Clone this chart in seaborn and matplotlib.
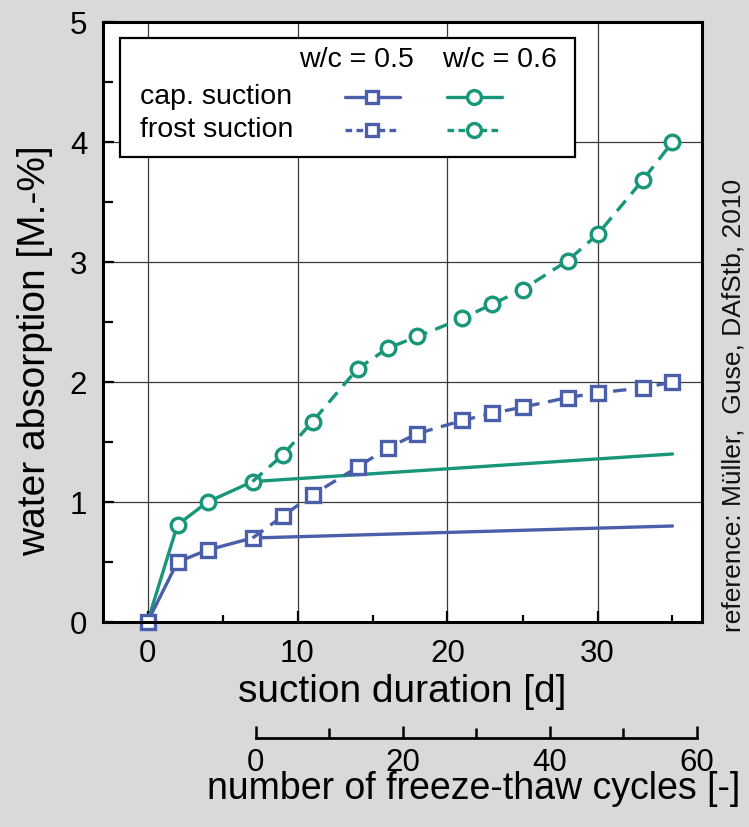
import numpy as np
import pandas as pd
import matplotlib
matplotlib.use("Agg")
import matplotlib.pyplot as plt
import seaborn as sns
from matplotlib.patches import Rectangle
from matplotlib.ticker import MultipleLocator

# ---------------- data ----------------
cap_days = [0, 2, 4, 7, 35]
cap_wc05 = [0.0, 0.50, 0.60, 0.70, 0.80]
cap_wc06 = [0.0, 0.81, 1.00, 1.17, 1.40]

frost_days = [7, 9, 11, 14, 16, 18, 21, 23, 25, 28, 30, 33, 35]
frost_wc05 = [0.70, 0.88, 1.06, 1.29, 1.45, 1.57, 1.68, 1.74, 1.79, 1.87, 1.91, 1.95, 2.00]
frost_wc06 = [1.17, 1.39, 1.67, 2.11, 2.28, 2.38, 2.53, 2.65, 2.77, 3.01, 3.23, 3.68, 4.00]

x_ticks = [0, 10, 20, 30]
y_ticks = [0, 1, 2, 3, 4, 5]
cycle_ticks = [0, 20, 40, 60]

BLUE = "#4a5ea9"
GREEN = "#17967a"
BG = "#d9d9d9"

sns.set_theme(style="white")
plt.rcParams["font.family"] = ["Liberation Sans", "DejaVu Sans"]

W, H = 749, 827
fig = plt.figure(figsize=(W / 100, H / 100), dpi=100, facecolor=BG)

# main axes: x from 102.5 to 702.5 px, y from 22 to 622 px
ax = fig.add_axes([102.5 / W, (H - 622) / H, 600 / W, 600 / H])
ax.set_facecolor("white")

lw = 2.4
mew = 2.4

cap05 = pd.DataFrame({"day": cap_days, "wa": cap_wc05})
cap06 = pd.DataFrame({"day": cap_days, "wa": cap_wc06})
fr05 = pd.DataFrame({"day": frost_days, "wa": frost_wc05})
fr06 = pd.DataFrame({"day": frost_days, "wa": frost_wc06})

# green series first
sns.lineplot(data=cap06, x="day", y="wa", ax=ax, color=GREEN, lw=lw,
             marker="o", markersize=10.5, markerfacecolor="white",
             markeredgecolor=GREEN, markeredgewidth=mew, markevery=[1, 2, 3],
             zorder=3)
sns.lineplot(data=fr06, x="day", y="wa", ax=ax, color=GREEN, lw=lw,
             linestyle=(0, (4, 2.6)), marker="o", markersize=10.5,
             markerfacecolor="white", markeredgecolor=GREEN,
             markeredgewidth=mew, markevery=list(range(1, len(frost_days))),
             zorder=3)
sns.lineplot(data=cap05, x="day", y="wa", ax=ax, color=BLUE, lw=lw,
             marker="s", markersize=9.5, markerfacecolor="white",
             markeredgecolor=BLUE, markeredgewidth=mew, markevery=[0, 1, 2, 3],
             zorder=4, clip_on=False)
sns.lineplot(data=fr05, x="day", y="wa", ax=ax, color=BLUE, lw=lw,
             linestyle=(0, (4, 2.6)), marker="s", markersize=9.5,
             markerfacecolor="white", markeredgecolor=BLUE,
             markeredgewidth=mew, markevery=list(range(1, len(frost_days))),
             zorder=4)

ax.set_xlim(-3, 37)
ax.set_ylim(0, 5)
ax.set_xticks(x_ticks)
ax.set_yticks(y_ticks)
ax.xaxis.set_minor_locator(MultipleLocator(5))
ax.yaxis.set_minor_locator(MultipleLocator(0.5))
ax.grid(True, which="major", color="#3a3a3a", lw=0.9)
ax.set_axisbelow(True)
for s in ax.spines.values():
    s.set_color("black")
    s.set_linewidth(2.2)
    s.set_zorder(6)
ax.tick_params(axis="both", which="both", direction="in", colors="black",
               labelsize=22.5, top=False, right=False, bottom=True, left=True)
ax.tick_params(axis="x", which="major", length=8, width=1.6, pad=12)
ax.tick_params(axis="x", which="minor", length=5, width=1.6)
ax.tick_params(axis="y", which="major", length=8, width=1.6, pad=11)
ax.tick_params(axis="y", which="minor", length=7, width=1.6)
for t in ax.get_xticklabels() + ax.get_yticklabels():
    t.set_color("black")

ax.set_xlabel("suction duration [d]", fontsize=28, color="black", labelpad=4)
ax.set_ylabel("water absorption [M.-%]", fontsize=28, color="black")
ax.yaxis.set_label_coords(-0.082, 0.453)

# legend (custom table layout)
ax.add_patch(Rectangle((0.029, 0.775), 0.7585, 0.198, transform=ax.transAxes,
                       facecolor="white", edgecolor="black", lw=1.6, zorder=7))
fs_leg = 20.5
ax.text(0.424, 0.937, "w/c = 0.5", transform=ax.transAxes, ha="center",
        va="center", fontsize=fs_leg, color="black", zorder=8)
ax.text(0.661, 0.937, "w/c = 0.6", transform=ax.transAxes, ha="center",
        va="center", fontsize=fs_leg, color="black", zorder=8)
ax.text(0.0625, 0.875, "cap. suction", transform=ax.transAxes, ha="left",
        va="center", fontsize=fs_leg, color="black", zorder=8)
ax.text(0.0625, 0.820, "frost suction", transform=ax.transAxes, ha="left",
        va="center", fontsize=fs_leg, color="black", zorder=8)

for (x0, x1, xm), col, mk, ms in [((0.404, 0.496, 0.450), BLUE, "s", 9.0),
                                  ((0.574, 0.666, 0.619), GREEN, "o", 10.0)]:
    ax.plot([x0, xm, x1], [0.875, 0.875, 0.875], transform=ax.transAxes,
            color=col, lw=lw, marker=mk, markersize=ms, markerfacecolor="white",
            markeredgecolor=col, markeredgewidth=mew, markevery=[1], zorder=8)
    ax.plot([x0, xm, x1], [0.820, 0.820, 0.820], transform=ax.transAxes,
            color=col, lw=lw, linestyle=(0, (2.0, 1.3)), marker=mk, markersize=ms,
            markerfacecolor="white", markeredgecolor=col, markeredgewidth=mew,
            markevery=[1], zorder=8)

# secondary axis: freeze-thaw cycles
ax2 = fig.add_axes([255.7 / W, (H - 738) / H, 441 / W, 0.0001])
ax2.patch.set_alpha(0)
ax2.set_xlim(0, 60)
ax2.set_xticks(cycle_ticks)
ax2.xaxis.set_minor_locator(MultipleLocator(10))
ax2.set_yticks([])
for k in ["top", "left", "right"]:
    ax2.spines[k].set_visible(False)
ax2.spines["bottom"].set_color("black")
ax2.spines["bottom"].set_linewidth(2.0)
ax2.tick_params(axis="x", which="both", direction="in", colors="black",
                labelsize=22.5, pad=7, bottom=True, top=False)
ax2.tick_params(axis="x", which="major", length=9, width=1.8)
ax2.tick_params(axis="x", which="minor", length=7, width=1.8)

fig.text(474 / W, (H - 799) / H, "number of freeze-thaw cycles [-]",
         ha="center", va="baseline", fontsize=27, color="black")

fig.text(733 / W, (H - 405) / H, "reference: Müller,  Guse, DAfStb, 2010",
         rotation=90, ha="center", va="center", fontsize=19, color="#111111")

fig.savefig("out.png", dpi=100, facecolor=BG)
